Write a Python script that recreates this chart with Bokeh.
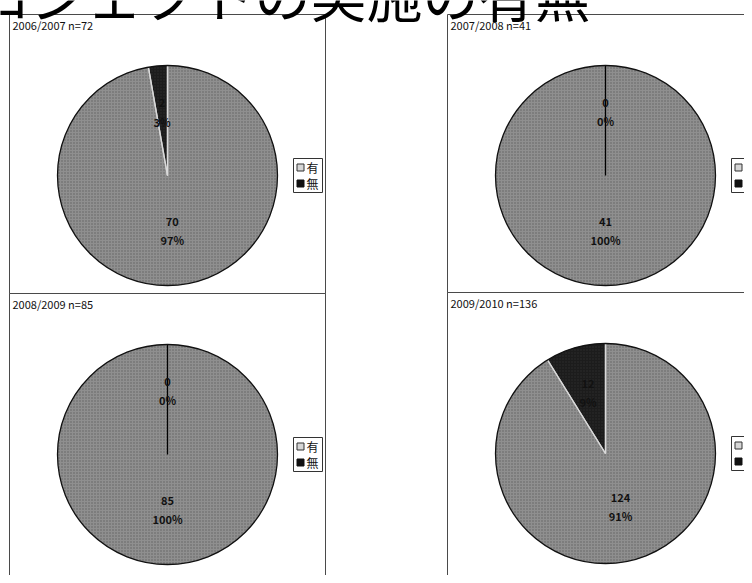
import math
from bokeh.plotting import figure
from bokeh.models import Range1d
from bokeh.embed import file_html
from bokeh.resources import INLINE
from bokeh.core.properties import value

# ---------------- data ----------------
title_text = "プロジェクトの実施の有無"
categories = ["有", "無"]
periods = ["2006/2007", "2007/2008", "2008/2009", "2009/2010"]
counts_yes = [70, 41, 85, 124]
counts_no = [2, 0, 0, 12]

# ---------------- style ----------------
slice_colors = ["#8f8f8f", "#1c1c1c"]
legend_fill = ["#d6d6d6", "#111111"]
legend_line = ["#333333", "#111111"]
label_frac = [0.5, 0.58]
FONT = value("Noto Sans CJK JP")

# layout in canvas pixels (y downward)
panel_lefts = [9, 447, 9, 447]
panel_tops = [14, 14, 293, 292]
panel_rights = [325, 760, 325, 760]
panel_bottoms = [293, 292, 600, 600]
PIE_DX, PIE_DY, R = 158, 161, 110
LEG_DX, LEG_W, LEG_H = 284, 29, 34

W, H = 744, 575


def Y(py):
    """canvas y (downward) -> data y (upward)"""
    return H - py


p = figure(width=W, height=H, x_range=Range1d(0, W), y_range=Range1d(0, H),
           output_backend="svg", toolbar_location=None, min_border=0,
           x_axis_type=None, y_axis_type=None, outline_line_color=None,
           background_fill_color="white", border_fill_color="white")
p.grid.visible = False

# panel boxes
p.quad(left=panel_lefts, right=panel_rights,
       top=[Y(t) for t in panel_tops], bottom=[Y(b) for b in panel_bottoms],
       fill_color=None, line_color="#4a4a4a", line_width=1)

FULL = 2 * math.pi - 1e-4
series = [counts_yes, counts_no]
for k, per in enumerate(periods):
    vals = [s[k] for s in series]
    total = sum(vals)
    cx = panel_lefts[k] + PIE_DX
    cy = Y(panel_tops[k] + PIE_DY)

    # wedges (clockwise from 12 o'clock, Excel style)
    cum = 0.0
    xs, ys, starts, ends, cols = [], [], [], [], []
    lab_x, lab_y, lab_t = [], [], []
    edges = []
    for i, v in enumerate(vals):
        frac = v / total
        a0 = math.pi / 2 - 2 * math.pi * cum
        a1 = a0 - min(2 * math.pi * frac, FULL)
        if v > 0:
            xs.append(cx); ys.append(cy); starts.append(a1); ends.append(a0)
            cols.append(slice_colors[i])
            if frac < 1:
                edges.append((a0, "#d9d9d9"))
                edges.append((a1, "#d9d9d9"))
        else:
            edges.append((a0, "#000000"))
        mid = (a0 + a1) / 2
        lab_x.append(cx + label_frac[i] * R * math.cos(mid))
        lab_y.append(cy + label_frac[i] * R * math.sin(mid))
        lab_t.append(f"{v}\n{round(100 * v / total)}%")
        cum += frac

    p.wedge(x=xs, y=ys, radius=R, start_angle=starts, end_angle=ends,
            fill_color=cols, line_color=None,
            hatch_pattern="dot", hatch_color="#3a3a3a", hatch_scale=3,
            hatch_alpha=0.55)
    # slice edges
    p.segment(x0=[cx] * len(edges), y0=[cy] * len(edges),
              x1=[cx + R * math.cos(a) for a, _ in edges],
              y1=[cy + R * math.sin(a) for a, _ in edges],
              line_color=[c for _, c in edges], line_width=1.3)
    # outline
    p.circle(x=[cx], y=[cy], radius=R, fill_color=None, line_color="#111111",
             line_width=1.3)
    # data labels
    p.text(x=lab_x, y=lab_y, text=lab_t, text_align="center",
           text_baseline="middle", text_font=FONT, text_font_size="11px",
           text_font_style="bold", text_color="#111111", text_line_height=1.2)

    # panel title
    p.text(x=[panel_lefts[k] + 3], y=[Y(panel_tops[k] + 2)],
           text=[f"{per} n={total}"], text_align="left", text_baseline="top",
           text_font=FONT, text_font_size="11px", text_color="#111111")

    # legend
    lx = panel_lefts[k] + LEG_DX
    lcy = Y(panel_tops[k] + PIE_DY)
    p.quad(left=[lx], right=[lx + LEG_W], top=[lcy + LEG_H / 2],
           bottom=[lcy - LEG_H / 2], fill_color="white", line_color="#333333",
           line_width=1)
    rows_y = [lcy + 8, lcy - 8]
    p.scatter(x=[lx + 7] * 2, y=rows_y, marker="square", size=7,
              fill_color=legend_fill, line_color=legend_line, line_width=1)
    p.text(x=[lx + 13] * 2, y=rows_y, text=categories, text_align="left",
           text_baseline="middle", text_font=FONT, text_font_size="12px",
           text_color="#111111")

# main (cropped) title
p.text(x=[590], y=[Y(32)], text=[title_text], text_align="right",
       text_baseline="bottom", text_font=FONT, text_font_size="56px",
       text_color="#000000")

open("out.html", "w").write(file_html(p, INLINE))
